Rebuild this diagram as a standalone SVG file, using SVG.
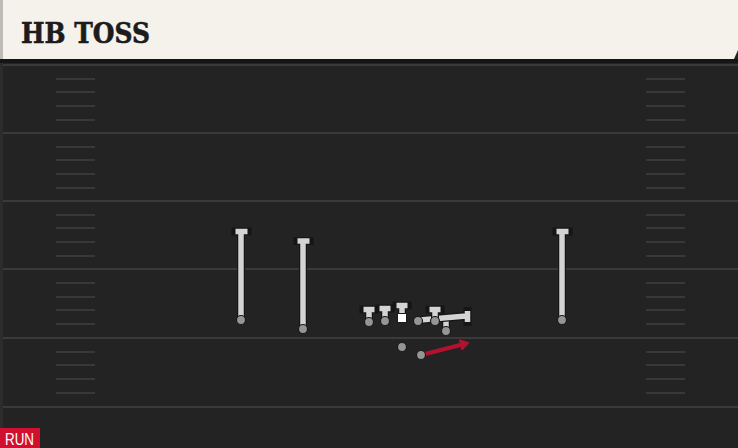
<svg xmlns="http://www.w3.org/2000/svg" width="738" height="448" viewBox="0 0 738 448">
<style>
.yl{stroke:#3a3a3a;stroke-width:2}
.hash{stroke:#383838;stroke-width:2}
.ro{stroke:#151515;stroke-width:8;fill:none;stroke-linecap:square}
.ri{stroke:#d4d4d4;stroke-width:5.5;fill:none;stroke-linecap:butt}
.pc{fill:#959595;stroke:#1a1a1a;stroke-width:1.2}
</style>
<defs>
<marker id="ah" markerWidth="12" markerHeight="12" refX="7" refY="6" orient="auto" markerUnits="userSpaceOnUse">
<path d="M1,1.5 L8,6 L1,10.5" fill="none" stroke="#b3122f" stroke-width="3"/>
</marker>
</defs>
<rect x="0" y="0" width="738" height="448" fill="#232323"/>
<g id="field">
<line class="yl" x1="0" y1="65" x2="738" y2="65"/>
<line class="yl" x1="0" y1="133" x2="738" y2="133"/>
<line class="yl" x1="0" y1="201" x2="738" y2="201"/>
<line class="yl" x1="0" y1="269" x2="738" y2="269"/>
<line class="yl" x1="0" y1="338" x2="738" y2="338"/>
<line class="yl" x1="0" y1="407" x2="738" y2="407"/>
<path class="hash" d="M56,79H95M56,92H95M56,106H95M56,120H95M56,147H95M56,160H95M56,174H95M56,188H95M56,215H95M56,228H95M56,242H95M56,256H95M56,283H95M56,297H95M56,310H95M56,324H95M56,352H95M56,365H95M56,379H95M56,393H95"/>
<path class="hash" d="M646,79H685M646,92H685M646,106H685M646,120H685M646,147H685M646,160H685M646,174H685M646,188H685M646,215H685M646,228H685M646,242H685M646,256H685M646,283H685M646,297H685M646,310H685M646,324H685M646,352H685M646,365H685M646,379H685M646,393H685"/>
<rect x="0" y="60" width="3" height="388" fill="#2c2c2c"/>
</g>
<g id="header">
<rect x="0" y="59" width="738" height="4" fill="#151515"/>
<path d="M3,0 H738 V50 L734,59 H3 Z" fill="#f5f2eb"/>
<rect x="0" y="0" width="3" height="59" fill="#bdbbb6"/>
<text x="21" y="43" font-family="DejaVu Serif, serif" font-weight="bold" font-size="28" textLength="129" lengthAdjust="spacingAndGlyphs" fill="#1c1c1c" stroke="#1c1c1c" stroke-width="0.6">HB TOSS</text>
</g>
<g id="connectors">
<path d="M421,355 Q445,349 466,343.5" fill="none" stroke="#b3122f" stroke-width="4" marker-end="url(#ah)"/>
</g>
<g id="wr1">
<path class="ro" d="M241,318V233M235.5,231.5H247.5"/>
<path class="ri" d="M241,318V233M235.5,231.5H247.5"/>
<circle class="pc" cx="241" cy="320" r="4.5"/>
</g>
<g id="wr2">
<path class="ro" d="M303,327V242M297.5,241H309.5"/>
<path class="ri" d="M303,327V242M297.5,241H309.5"/>
<circle class="pc" cx="303" cy="329" r="4.5"/>
</g>
<g id="wr3">
<path class="ro" d="M562,318V233M556.5,231.5H568.5"/>
<path class="ri" d="M562,318V233M556.5,231.5H568.5"/>
<circle class="pc" cx="562" cy="320" r="4.5"/>
</g>
<g id="lt">
<path class="ro" d="M369,320V311M363.5,309.5H374.5"/>
<path class="ri" d="M369,320V311M363.5,309.5H374.5"/>
<circle class="pc" cx="369" cy="322" r="4.5"/>
</g>
<g id="lg">
<path class="ro" d="M385,319V310M379.5,308.5H390.5"/>
<path class="ri" d="M385,319V310M379.5,308.5H390.5"/>
<circle class="pc" cx="385" cy="321" r="4.5"/>
</g>
<g id="c">
<path class="ro" d="M402,314V307M396.5,305.5H407.5"/>
<path class="ri" d="M402,314V307M396.5,305.5H407.5"/>
<rect x="397.5" y="313.5" width="9" height="9" fill="#ffffff" stroke="#1a1a1a" stroke-width="1"/>
</g>
<g id="rt">
<path class="ro" d="M446,329V319"/>
<path class="ri" d="M446,329V319"/>
</g>
<g id="rg">
<path class="ro" d="M420,320L466,316M467.5,311V322"/>
<path class="ri" d="M420,320L466,316M467.5,311V322"/>
<circle class="pc" cx="418" cy="321" r="4.5"/>
</g>
<g id="rg2">
<path class="ro" d="M435,319V311M429.5,309.5H440.5"/>
<path class="ri" d="M435,319V311M429.5,309.5H440.5"/>
<circle class="pc" cx="435" cy="321" r="4.5"/>
</g>
<g id="te">
<circle class="pc" cx="446" cy="331" r="4.5"/>
</g>
<g id="qb">
<circle class="pc" cx="402" cy="347" r="4.5"/>
</g>
<g id="hb">
<circle class="pc" cx="421" cy="355" r="4.5"/>
</g>
<g id="tag">
<rect x="0" y="428" width="40" height="20" fill="#d0102e"/>
<text x="5" y="445" font-family="Liberation Sans, sans-serif" font-size="17" textLength="29" lengthAdjust="spacingAndGlyphs" fill="#ffffff">RUN</text>
</g>
</svg>
